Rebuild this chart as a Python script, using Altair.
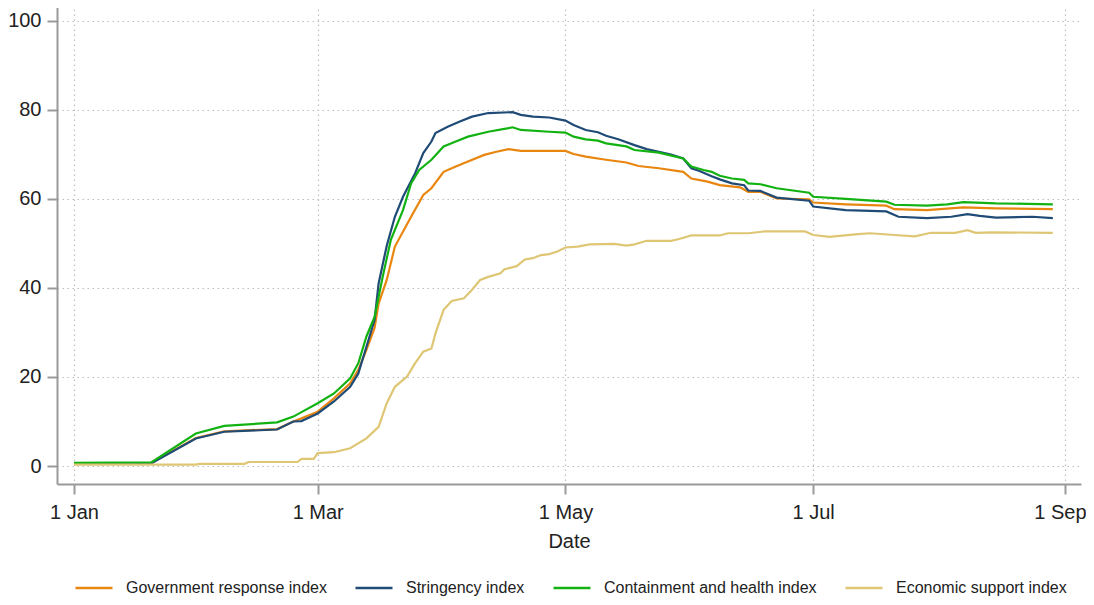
import altair as alt
import pandas as pd

start = pd.Timestamp("2020-01-01")

# Day offsets from 1 Jan 2020 and index values
gov_days = [0, 19, 30, 37, 50, 54, 56, 60, 64, 68, 70, 72, 74, 75, 77, 79, 83, 86, 88, 91, 94, 97, 101, 104,
            107, 110, 121, 123, 126, 131, 136, 139, 144, 150, 152, 156, 159, 164, 166, 169, 173, 181, 182,
            190, 200, 202, 210, 219, 227, 241]
gov_vals = [0.6, 0.7, 6.3, 7.8, 8.3, 10.0, 10.7, 12.2, 15.2, 18.6, 21.6, 26.1, 31.0, 36.5, 41.8, 49.3, 56.0,
            60.9, 62.4, 66.1, 67.3, 68.4, 69.9, 70.6, 71.2, 70.8, 70.8, 70.1, 69.5, 68.8, 68.2, 67.4, 66.9,
            66.1, 64.6, 63.9, 63.1, 62.6, 61.6, 61.6, 60.1, 59.9, 59.2, 58.8, 58.5, 57.7, 57.5, 58.1, 57.9, 57.7]

str_days = [0, 19, 30, 37, 50, 54, 56, 60, 64, 68, 70, 72, 74, 75, 77, 79, 81, 84, 86, 88, 89, 92, 95, 98,
            102, 108, 110, 113, 117, 121, 123, 126, 129, 131, 134, 138, 141, 144, 147, 150, 152, 154, 157,
            159, 162, 165, 166, 169, 173, 181, 182, 190, 200, 203, 210, 216, 220, 223, 227, 236, 241]
str_vals = [0.5, 0.6, 6.2, 7.7, 8.2, 10.0, 10.1, 11.8, 14.5, 17.8, 20.8, 26.8, 32.8, 41.0, 49.5, 56.0, 60.5,
            65.8, 70.3, 72.9, 74.8, 76.2, 77.4, 78.5, 79.3, 79.5, 78.9, 78.5, 78.3, 77.6, 76.6, 75.5, 75.0,
            74.2, 73.4, 72.1, 71.2, 70.6, 70.0, 69.1, 66.9, 66.3, 65.1, 64.4, 63.5, 63.1, 61.9, 61.8, 60.3,
            59.6, 58.3, 57.5, 57.2, 56.0, 55.7, 56.0, 56.6, 56.2, 55.8, 56.0, 55.7]

con_days = [0, 19, 30, 37, 50, 54, 56, 60, 64, 68, 70, 72, 74, 76, 78, 81, 83, 85, 88, 91, 94, 97, 102, 107,
            108, 110, 117, 121, 123, 126, 129, 131, 136, 138, 144, 150, 152, 155, 157, 159, 162, 165, 166,
            169, 173, 181, 182, 190, 200, 202, 210, 215, 219, 227, 241]
con_vals = [0.7, 0.8, 7.3, 9.0, 9.8, 11.1, 12.1, 14.1, 16.3, 19.7, 23.1, 29.1, 33.5, 42.5, 50.8, 57.5, 63.5,
            66.5, 68.8, 71.8, 72.9, 74.0, 75.1, 75.9, 76.1, 75.5, 75.1, 74.9, 74.0, 73.4, 73.1, 72.5, 71.8,
            71.0, 70.4, 69.1, 67.3, 66.5, 66.1, 65.2, 64.6, 64.3, 63.5, 63.3, 62.4, 61.4, 60.5, 60.0, 59.4,
            58.7, 58.5, 58.8, 59.3, 59.0, 58.8]

eco_days = [0, 30, 31, 42, 43, 55, 56, 59, 60, 64, 68, 72, 75, 77, 79, 82, 84, 86, 88, 89, 91, 93, 96, 98,
            100, 102, 105, 106, 109, 111, 113, 115, 117, 119, 121, 124, 127, 133, 136, 138, 141, 147, 149,
            152, 159, 161, 166, 170, 180, 182, 186, 193, 196, 202, 207, 211, 217, 220, 222, 226, 241]
eco_vals = [0.3, 0.3, 0.5, 0.5, 0.9, 0.9, 1.6, 1.6, 2.9, 3.1, 4.0, 6.2, 8.8, 14.1, 17.8, 20.1, 23.1, 25.7,
            26.4, 29.8, 35.1, 37.1, 37.7, 39.6, 41.8, 42.5, 43.3, 44.2, 44.9, 46.4, 46.7, 47.4, 47.6, 48.2,
            49.1, 49.3, 49.8, 49.9, 49.5, 49.8, 50.6, 50.6, 51.0, 51.8, 51.8, 52.3, 52.3, 52.7, 52.7, 51.9,
            51.5, 52.1, 52.3, 51.9, 51.6, 52.4, 52.4, 53.0, 52.4, 52.5, 52.4]

series_names = ["Government response index", "Stringency index",
                "Containment and health index", "Economic support index"]
series_colors = ["#E8860F", "#1F4B76", "#12B212", "#DEC674"]

rows = []
for name, days, vals in zip(series_names,
                            [gov_days, str_days, con_days, eco_days],
                            [gov_vals, str_vals, con_vals, eco_vals]):
    for d, v in zip(days, vals):
        rows.append({"date": (start + pd.Timedelta(days=d)).strftime("%Y-%m-%d"),
                     "value": v, "series": name})
df = pd.DataFrame(rows)

FONT = "Liberation Sans"

x_enc = alt.X(
    "date:T",
    title="Date",
    scale=alt.Scale(
        type="utc",
        nice=False,
        domain=[alt.DateTime(year=2019, month=12, date=27, hours=19, minutes=30, utc=True),
                alt.DateTime(year=2020, month=9, date=4, hours=22, minutes=30, utc=True)],
    ),
    axis=alt.Axis(
        values=[alt.DateTime(year=2020, month=m, date=1, utc=True) for m in [1, 3, 5, 7, 9]],
        format="%-d %b",
        labelPadding=8,
        titlePadding=9,
        labelFlush=16.5,
        labelFlushOffset=21,
    ),
)

y_enc = alt.Y(
    "value:Q",
    title=None,
    scale=alt.Scale(domain=[-4.04, 103.8], nice=False, zero=False),
    axis=alt.Axis(values=[0, 20, 40, 60, 80, 100], labelPadding=6),
)

color_enc = alt.Color(
    "series:N",
    scale=alt.Scale(domain=series_names, range=series_colors),
    legend=alt.Legend(
        orient="none", legendX=17, legendY=564, direction="horizontal", columns=4,
        title=None, symbolType="stroke", symbolSize=1369, symbolStrokeWidth=2.5,
        labelFontSize=16, labelFont=FONT, labelColor="#222222", labelOffset=12,
        labelLimit=0, columnPadding=23, padding=0,
    ),
)

chart = alt.Chart(df).mark_line(strokeWidth=2.2).encode(
    x=x_enc, y=y_enc, color=color_enc,
    order=alt.Order("date:T"),
).properties(
    width=1024, height=480,
    autosize=alt.AutoSizeParams(type="none"),
    padding={"left": 49, "top": -4, "right": 5, "bottom": 113},
).configure_view(
    strokeWidth=0
).configure_axis(
    domainColor="#9a9a9a", domainWidth=2,
    tickColor="#9a9a9a", tickWidth=2, tickSize=10,
    labelFont=FONT, labelFontSize=20, labelColor="#222222",
    titleFont=FONT, titleFontSize=20, titleFontWeight="normal", titleColor="#222222",
    gridColor="#bdbdbd", gridDash=[1.5, 3.5], gridWidth=1.2,
)

chart.save("out.html", embed_options={"renderer": "svg", "actions": False})
